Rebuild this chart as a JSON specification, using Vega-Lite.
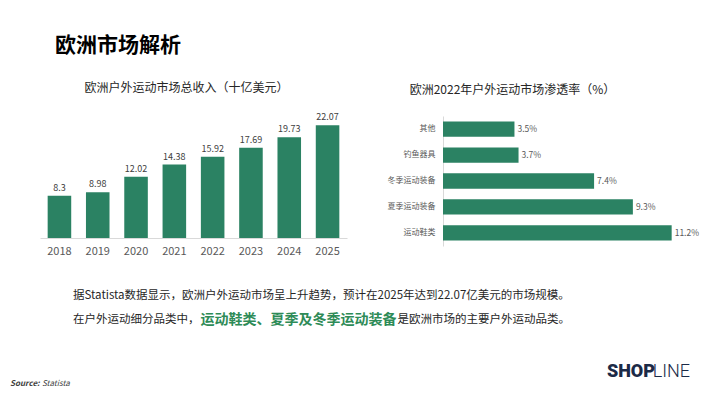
{
  "$schema": "https://vega.github.io/schema/vega-lite/v6.json",
  "background": "white",
  "padding": {"left": 10, "top": 35, "right": 0, "bottom": 0},
  "config": {"view": {"stroke": null}, "font": "Noto Sans CJK SC"},
  "title": {"text": "欧洲市场解析", "anchor": "start", "dx": 45, "fontSize": 21, "fontWeight": "bold", "color": "#000000", "offset": 26, "font": "Noto Sans CJK SC"},
  "spacing": 11,
  "vconcat": [
    {
      "spacing": 0,
      "hconcat": [
        {
          "width": 307,
          "height": 122,
          "title": {"text": "欧洲户外运动市场总收入（十亿美元）", "fontSize": 12, "fontWeight": "normal", "color": "#262626", "offset": 18, "dx": -7, "font": "Noto Sans CJK SC"},
          "data": {"values": [
            {"year": "2018", "revenue": 8.3},
            {"year": "2019", "revenue": 8.98},
            {"year": "2020", "revenue": 12.02},
            {"year": "2021", "revenue": 14.38},
            {"year": "2022", "revenue": 15.92},
            {"year": "2023", "revenue": 17.69},
            {"year": "2024", "revenue": 19.73},
            {"year": "2025", "revenue": 22.07}
          ]},
          "encoding": {
            "x": {"field": "year", "type": "ordinal", "scale": {"paddingInner": 0.385, "paddingOuter": 0.2},
              "axis": {"title": null, "labelAngle": 0, "ticks": false, "domainColor": "#d9d9d9", "labelColor": "#595959", "labelFontSize": 11, "labelPadding": 7, "minExtent": 40, "labelFont": "Noto Sans CJK SC"}},
            "y": {"field": "revenue", "type": "quantitative", "scale": {"domain": [0, 23.9], "nice": false},
              "axis": {"labels": false, "ticks": false, "domain": false, "grid": false, "title": null, "minExtent": 30, "maxExtent": 30}}
          },
          "layer": [
            {"mark": {"type": "bar", "color": "#2B8263"}},
            {"mark": {"type": "text", "dy": -8, "fontSize": 9, "color": "#404040"}, "encoding": {"text": {"field": "revenue", "type": "quantitative"}}}
          ]
        },
        {
          "width": 245,
          "height": 130,
          "title": {"text": "欧洲2022年户外运动市场渗透率（%）", "fontSize": 12, "fontWeight": "normal", "color": "#262626", "offset": 19, "dx": -53, "font": "Noto Sans CJK SC"},
          "data": {"values": [
            {"category": "其他", "rate": 0.035},
            {"category": "钓鱼器具", "rate": 0.037},
            {"category": "冬季运动装备", "rate": 0.074},
            {"category": "夏季运动装备", "rate": 0.093},
            {"category": "运动鞋类", "rate": 0.112}
          ]},
          "encoding": {
            "y": {"field": "category", "type": "nominal", "sort": null, "scale": {"paddingInner": 0.41, "paddingOuter": 0.21},
              "axis": {"title": null, "ticks": false, "domainColor": "#d9d9d9", "labelColor": "#595959", "labelFontSize": 8, "labelPadding": 8, "minExtent": 96, "maxExtent": 96, "labelFont": "Noto Sans CJK SC"}},
            "x": {"field": "rate", "type": "quantitative", "scale": {"domain": [0, 0.12], "nice": false}, "axis": null}
          },
          "layer": [
            {"mark": {"type": "bar", "color": "#2B8263"}},
            {"mark": {"type": "text", "align": "left", "dx": 3, "fontSize": 8.5, "color": "#595959"}, "encoding": {"text": {"field": "rate", "type": "quantitative", "format": ".1%"}}}
          ]
        }
      ]
    },
    {
      "width": 66,
      "height": 1,
      "data": {"values": [{"text": "据Statista数据显示，欧洲户外运动市场呈上升趋势，预计在2025年达到22.07亿美元的市场规模。"}]},
      "mark": {"type": "text", "align": "left", "fontSize": 11.5, "color": "#262626"},
      "encoding": {"text": {"field": "text", "type": "nominal"}}
    },
    {
      "spacing": 0,
      "hconcat": [
        {
          "width": 66,
          "height": 1,
          "data": {"values": [{"text": "在户外运动细分品类中，"}]},
          "mark": {"type": "text", "align": "left", "fontSize": 11.5, "color": "#262626"},
          "encoding": {"text": {"field": "text", "type": "nominal"}}
        },
        {
          "width": 1,
          "height": 1,
          "data": {"values": [{"text": "运动鞋类、夏季及冬季运动装备"}]},
          "mark": {"type": "text", "align": "left", "fontSize": 14, "fontWeight": "bold", "color": "#2E8B57"},
          "encoding": {"text": {"field": "text", "type": "nominal"}}
        },
        {
          "width": 1,
          "height": 1,
          "data": {"values": [{"text": "是欧洲市场的主要户外运动品类。"}]},
          "mark": {"type": "text", "align": "left", "fontSize": 11.5, "color": "#262626"},
          "encoding": {"text": {"field": "text", "type": "nominal"}}
        }
      ]
    },
    {
      "width": 650,
      "height": 50,
      "data": {"values": [{"source_label": "Source:", "source": "Statista", "brand_a": "SHOP", "brand_b": "LINE"}]},
      "encoding": {
        "y": {"datum": "bottom", "type": "ordinal", "scale": {"type": "point", "domain": ["top", "bottom"], "padding": 0}, "axis": null}
      },
      "layer": [
        {"mark": {"type": "text", "align": "left", "baseline": "bottom", "dx": -30, "fontSize": 8, "fontStyle": "italic", "fontWeight": "bold", "color": "#404040"},
          "encoding": {"x": {"datum": "start", "type": "ordinal", "scale": {"type": "point", "domain": ["start", "end"], "padding": 0}, "axis": null}, "text": {"field": "source_label", "type": "nominal"}}},
        {"mark": {"type": "text", "align": "left", "baseline": "bottom", "dx": 2, "fontSize": 8, "fontStyle": "italic", "color": "#404040"},
          "encoding": {"x": {"datum": "start", "type": "ordinal", "axis": null}, "text": {"field": "source", "type": "nominal"}}},
        {"mark": {"type": "text", "align": "right", "baseline": "bottom", "dx": -35, "dy": -7, "fontSize": 18, "fontWeight": 900, "font": "Roboto", "color": "#1B2A47"},
          "encoding": {"x": {"datum": "end", "type": "ordinal", "axis": null}, "text": {"field": "brand_a", "type": "nominal"}}},
        {"mark": {"type": "text", "align": "right", "baseline": "bottom", "dy": -7, "fontSize": 18, "fontWeight": 300, "font": "Roboto", "color": "#1B2A47"},
          "encoding": {"x": {"datum": "end", "type": "ordinal", "axis": null}, "text": {"field": "brand_b", "type": "nominal"}}}
      ]
    }
  ]
}
